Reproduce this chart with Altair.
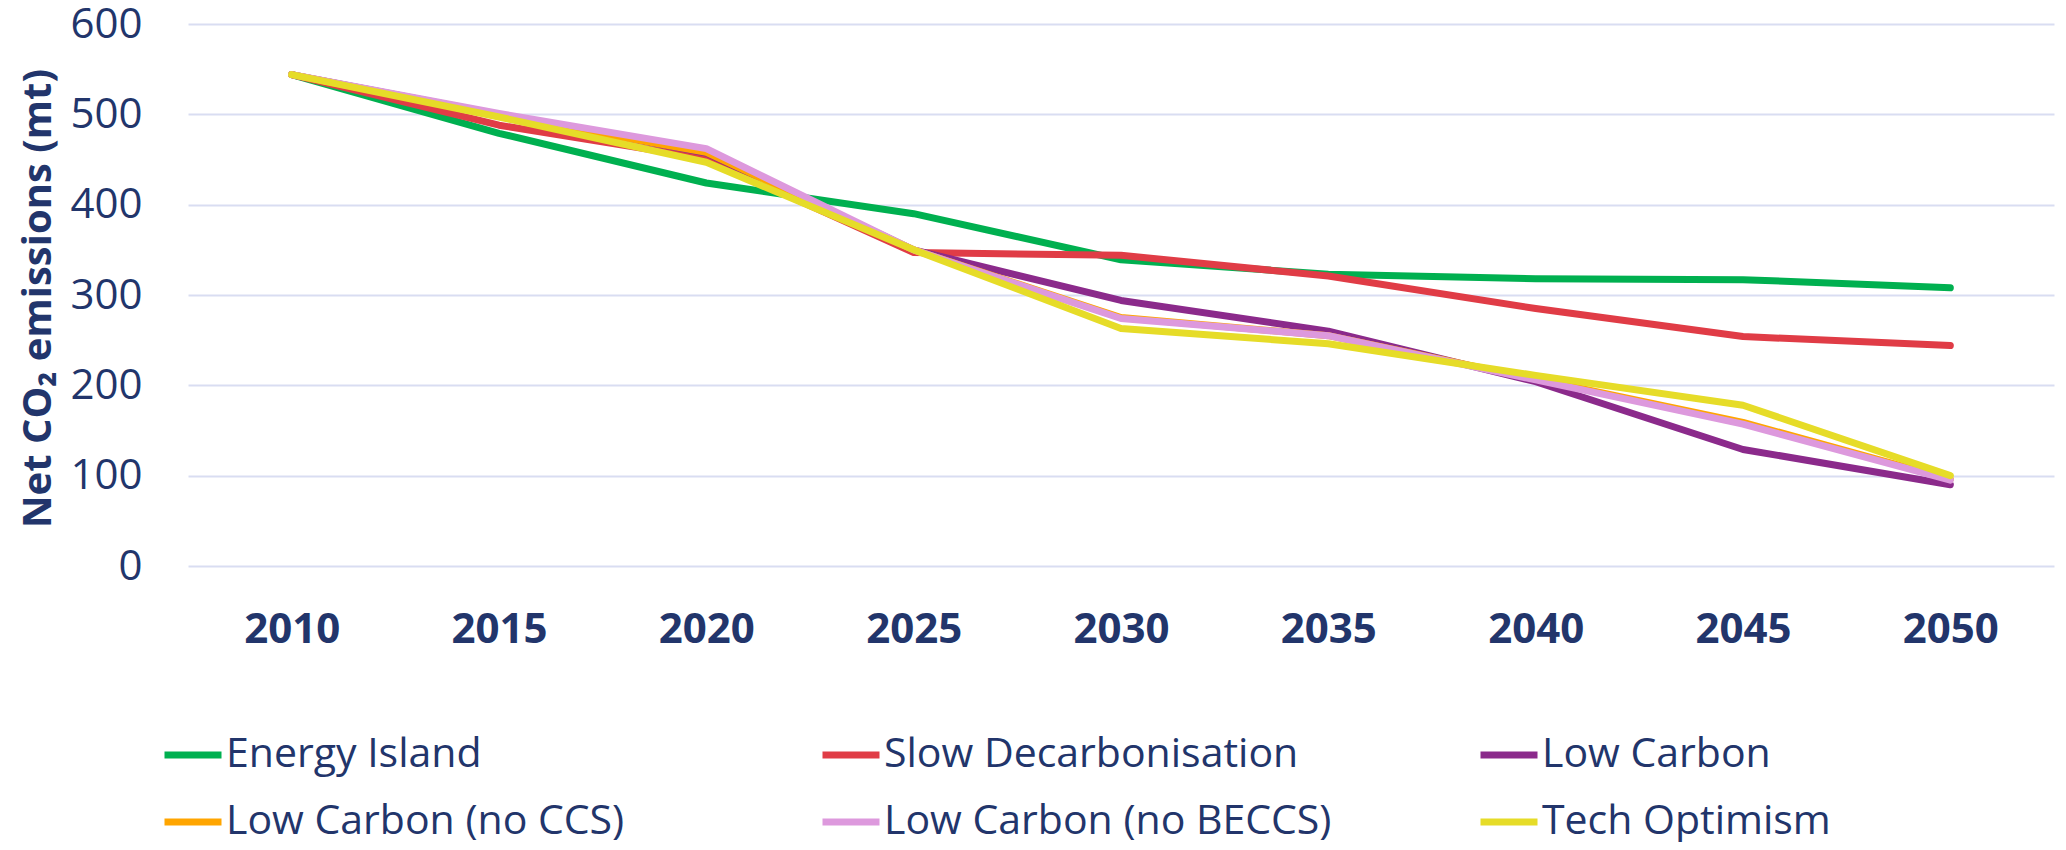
import altair as alt
import pandas as pd

years = ["2010", "2015", "2020", "2025", "2030", "2035", "2040", "2045", "2050"]
series_names = [
    "Energy Island",
    "Slow Decarbonisation",
    "Low Carbon",
    "Low Carbon (no CCS)",
    "Low Carbon (no BECCS)",
    "Tech Optimism",
]
energy_island = [544, 479, 424, 390, 339, 323, 318, 317, 308]
slow_decarbonisation = [544, 488, 451, 347, 344, 321, 285, 254, 244]
low_carbon = [544, 500, 457, 350, 294, 260, 204, 129, 90]
low_carbon_no_ccs = [544, 499, 458, 350, 275, 255, 207, 159, 96]
low_carbon_no_beccs = [544, 501, 462, 350, 274, 255, 206, 157, 95]
tech_optimism = [544, 497, 447, 350, 263, 246, 211, 178, 100]
colors = ["#00B050", "#E03C46", "#8B2A8B", "#FFA500", "#DD99DD", "#E6DC28"]

all_values = [energy_island, slow_decarbonisation, low_carbon,
              low_carbon_no_ccs, low_carbon_no_beccs, tech_optimism]
rows = []
for i, (name, vals) in enumerate(zip(series_names, all_values)):
    for y, v in zip(years, vals):
        rows.append({"Year": y, "Scenario": name, "Value": v, "order": i})
df = pd.DataFrame(rows)

TEXT = "#22356B"
FONT = "Open Sans"

chart = alt.Chart(df).mark_line(strokeWidth=7, strokeCap="round", strokeJoin="round").encode(
    x=alt.X("Year:N", sort=years, title=None,
            axis=alt.Axis(labelAngle=0, labelFont=FONT, labelFontSize=42, labelFontWeight="bold",
                          labelColor=TEXT, labelPadding=43, ticks=False, domain=False, grid=False)),
    y=alt.Y("Value:Q", scale=alt.Scale(domain=[0, 600], nice=False),
            title="Net CO₂ emissions (mt)",
            axis=alt.Axis(values=[0, 100, 200, 300, 400, 500, 600], labelFont=FONT, labelFontSize=42,
                          labelColor=TEXT, labelPadding=46, ticks=False, domain=False,
                          grid=True, gridColor="#D9DDF2", gridWidth=2,
                          titleFont=FONT, titleFontSize=40, titleFontWeight="bold", titleColor=TEXT,
                          titleAngle=-90, titleX=-150, titleY=274, titleAlign="center",
                          titleBaseline="middle")),
    color=alt.Color("Scenario:N", sort=series_names,
                    scale=alt.Scale(domain=series_names, range=colors),
                    legend=alt.Legend(orient="none", legendX=-27, legendY=699, direction="horizontal",
                                      columns=3, gridAlign="all", columnPadding=134, rowPadding=15,
                                      symbolType="stroke", symbolSize=3249, symbolStrokeWidth=7,
                                      labelFont=FONT, labelFontSize=41, labelColor=TEXT,
                                      labelOffset=1, labelLimit=700, title=None, padding=0)),
    order=alt.Order("order:Q"),
).properties(
    width=1866, height=542,
    autosize=alt.AutoSizeParams(type="none"),
    padding={"left": 180, "top": 16, "right": 4, "bottom": 276},
).configure(background="white").configure_view(stroke=None)

chart.save("out.html", embed_options={"renderer": "svg", "actions": False})
